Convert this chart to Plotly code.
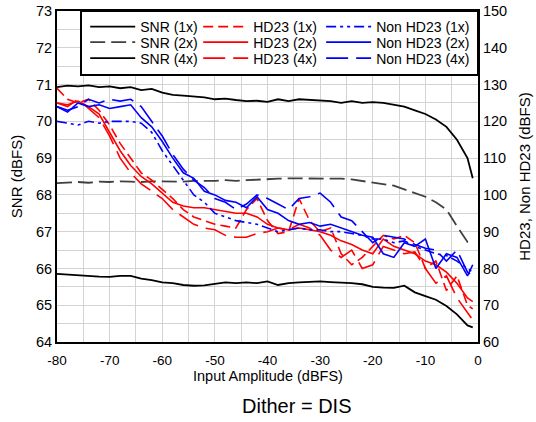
import plotly.graph_objects as go

# ---------------- data ----------------
x_dbfs = [-80, -78, -76, -74, -72, -70, -68, -66, -64, -62, -60, -58, -56, -54, -52, -50,
          -48, -46, -44, -42, -40, -38, -36, -34, -32, -30, -28, -26, -24, -22, -20, -18,
          -16, -14, -12, -10, -8, -6, -4, -2, -1]

snr_1x = [65.85, 65.83, 65.82, 65.80, 65.78, 65.77, 65.80, 65.80, 65.72, 65.68, 65.62, 65.60,
          65.55, 65.53, 65.54, 65.58, 65.62, 65.60, 65.62, 65.60, 65.65, 65.55, 65.60, 65.62,
          65.64, 65.65, 65.63, 65.62, 65.60, 65.57, 65.50, 65.48, 65.47, 65.53, 65.35, 65.25,
          65.15, 64.98, 64.75, 64.45, 64.40]
snr_2x = [68.32, 68.33, 68.35, 68.33, 68.36, 68.35, 68.37, 68.36, 68.35, 68.37, 68.36, 68.35,
          68.36, 68.38, 68.37, 68.38, 68.40, 68.38, 68.40, 68.42, 68.43, 68.44, 68.45, 68.45,
          68.46, 68.46, 68.45, 68.44, 68.42, 68.38, 68.35, 68.30, 68.25, 68.15, 68.05, 67.95,
          67.80, 67.60, 67.15, 66.72, 66.72]
snr_4x = [70.93, 70.97, 70.95, 70.98, 70.93, 70.95, 70.90, 70.93, 70.85, 70.88, 70.78, 70.72,
          70.70, 70.68, 70.65, 70.60, 70.62, 70.58, 70.55, 70.56, 70.53, 70.60, 70.55, 70.60,
          70.58, 70.55, 70.55, 70.50, 70.55, 70.50, 70.52, 70.50, 70.45, 70.40, 70.30, 70.20,
          70.05, 69.85, 69.50, 69.00, 68.45]

hd23_1x = [129, 126, 125, 126, 123, 119, 114, 110, 106, 104, 101.5, 99, 96, 94, 93, 92,
           91.5, 91, 96, 99, 93, 89.5, 90, 99, 93, 90, 91, 84, 81, 83, 86, 89,
           88, 89, 87, 80, 82, 74, 78, 70, 69]
hd23_2x = [125, 124.5, 125.5, 124, 122, 117, 112, 108, 105, 103, 100.5, 98, 97, 96.5, 96.5, 96,
           95.5, 95, 95, 94, 92, 91, 90.5, 91, 90.5, 90, 89, 87.5, 86.5, 85, 84, 88,
           86, 85, 84, 82, 81, 79, 76, 72, 71]
hd23_4x = [125, 124, 126, 123.5, 121, 116, 110, 106, 103, 101, 99, 96, 94, 92, 91, 90.5,
           89, 88.5, 88.5, 89.5, 90, 91, 90.5, 92, 91, 89, 85, 83, 85, 80, 81, 86,
           85, 84, 84.5, 80, 76, 78, 72, 68, 66]

nonhd_1x = [120, 119.5, 119, 120, 119.5, 120, 120, 120, 119.5, 117, 112, 108, 104, 100, 98, 95,
            94, 93, 92.5, 92, 91, 90, 90.5, 91, 90.5, 90.5, 90, 90, 89.5, 89, 88, 88,
            87, 87.5, 86, 85, 84, 83.5, 82, 80, 79]
nonhd_2x = [124, 122.5, 125, 124, 124.5, 123.5, 124, 124.5, 121, 118.5, 114.5, 110, 106, 104.5, 101, 100,
            98.5, 98, 96.5, 99.5, 96, 95, 93, 92, 92.5, 91.5, 92, 91, 90, 89, 88.5, 84,
            83, 87, 86, 88, 80, 84, 83, 78, 81]
nonhd_4x = [124, 123, 124, 126, 125, 126, 125.5, 126, 124, 120, 116, 111, 107, 104, 102, 99,
            98, 96, 97.5, 100, 99, 97.5, 96, 99, 99.5, 100.5, 98, 94, 93, 90, 87, 89,
            88.5, 88, 86.5, 85.5, 85, 82, 85, 79, 78]

x_ticks = [-80, -70, -60, -50, -40, -30, -20, -10, 0]
snr_ticks = [64, 65, 66, 67, 68, 69, 70, 71, 72, 73]
hd_ticks = [60, 70, 80, 90, 100, 110, 120, 130, 140, 150]

FONT = "Arial, 'Liberation Sans', sans-serif"

fig = go.Figure()

# legend placement (paper coords): three columns x three rows
col_x = [0.067, 0.3354, 0.6274]
row_y = [0.9517, 0.9048, 0.8565]

series = [
    ("SNR (1x)", snr_1x, "#000000", "solid", "y", 1.8),
    ("SNR (2x)", snr_2x, "#404040", "15px,6px", "y", 1.8),
    ("SNR (4x)", snr_4x, "#000000", "solid", "y", 1.8),
    ("HD23 (1x)", hd23_1x, "#ff0000", "10px,5px", "y2", 1.6),
    ("HD23 (2x)", hd23_2x, "#ff0000", "solid", "y2", 1.6),
    ("HD23 (4x)", hd23_4x, "#ff0000", "22px,8px", "y2", 1.6),
    ("Non HD23 (1x)", nonhd_1x, "#0000ff", "10px,4px,3px,4px,3px,4px", "y2", 1.6),
    ("Non HD23 (2x)", nonhd_2x, "#0000ff", "solid", "y2", 1.6),
    ("Non HD23 (4x)", nonhd_4x, "#0000ff", "22px,8px", "y2", 1.6),
]

legends = {}
for i, (name, ys, col, dash, yax, w) in enumerate(series):
    lname = "legend" if i == 0 else "legend%d" % (i + 1)
    fig.add_trace(go.Scatter(x=x_dbfs, y=ys, name=name, mode="lines",
                             line=dict(color=col, width=w, dash=dash),
                             yaxis=yax, legend=lname))
    legends[lname] = dict(x=col_x[i // 3], y=row_y[i % 3], xanchor="left", yanchor="middle",
                          font=dict(family=FONT, size=14, color="#000000"),
                          bgcolor="rgba(0,0,0,0)", borderwidth=0, itemwidth=45)

grid = "#d3d3d3"

fig.update_layout(
    width=536, height=422,
    margin=dict(l=57, r=58, t=11, b=80, autoexpand=False),
    paper_bgcolor="white", plot_bgcolor="white",
    font=dict(family=FONT, size=13, color="#000000"),
    showlegend=True,
    xaxis=dict(range=[-80, 0], tickvals=x_ticks, ticktext=[str(v) for v in x_ticks],
               showgrid=True, gridcolor=grid, gridwidth=1,
               minor=dict(dtick=5, showgrid=True, gridcolor=grid, gridwidth=1),
               showline=True, linecolor="#000000", linewidth=2, mirror=True,
               ticks="outside", ticklen=5, tickcolor="rgba(0,0,0,0)",
               zeroline=False, tickfont=dict(size=13.5), automargin=False),
    yaxis=dict(range=[64, 73], tickvals=snr_ticks, ticktext=[str(v) for v in snr_ticks],
               showgrid=True, gridcolor=grid, gridwidth=1,
               minor=dict(dtick=0.5, showgrid=True, gridcolor=grid, gridwidth=1),
               showline=True, linecolor="#000000", linewidth=2, mirror=True,
               ticks="", zeroline=False, tickfont=dict(size=14.5), automargin=False,
               ticklabeloverflow="allow",
               title=dict(text="SNR (dBFS)", font=dict(size=15), standoff=10)),
    yaxis2=dict(range=[60, 150], tickvals=hd_ticks, ticktext=[str(v) for v in hd_ticks],
                overlaying="y", side="right", showgrid=False, zeroline=False,
                showline=True, linecolor="#000000", linewidth=2, automargin=False,
                ticks="", tickfont=dict(size=14.5), ticklabeloverflow="allow",
                title=dict(text="HD23, Non HD23 (dBFS)", font=dict(size=15), standoff=13)),
    shapes=[dict(type="rect", xref="paper", yref="paper", x0=0.057, x1=1.0, y0=0.8066, y1=1.0,
                 line=dict(color="#000000", width=2), fillcolor="white", layer="above")],
    annotations=[
        dict(text="Input Amplitude (dBFS)", xref="paper", yref="paper", x=0.5, y=-0.1035,
             xanchor="center", yanchor="middle", showarrow=False,
             font=dict(size=14.5, family=FONT)),
        dict(text="Dither = DIS", xref="paper", yref="paper", x=0.57, y=-0.193,
             xanchor="center", yanchor="middle", showarrow=False,
             font=dict(size=20, family=FONT)),
    ],
    **legends,
)

fig.write_html("out.html", config={"displayModeBar": False},
               post_script="document.body.style.margin='0';")
